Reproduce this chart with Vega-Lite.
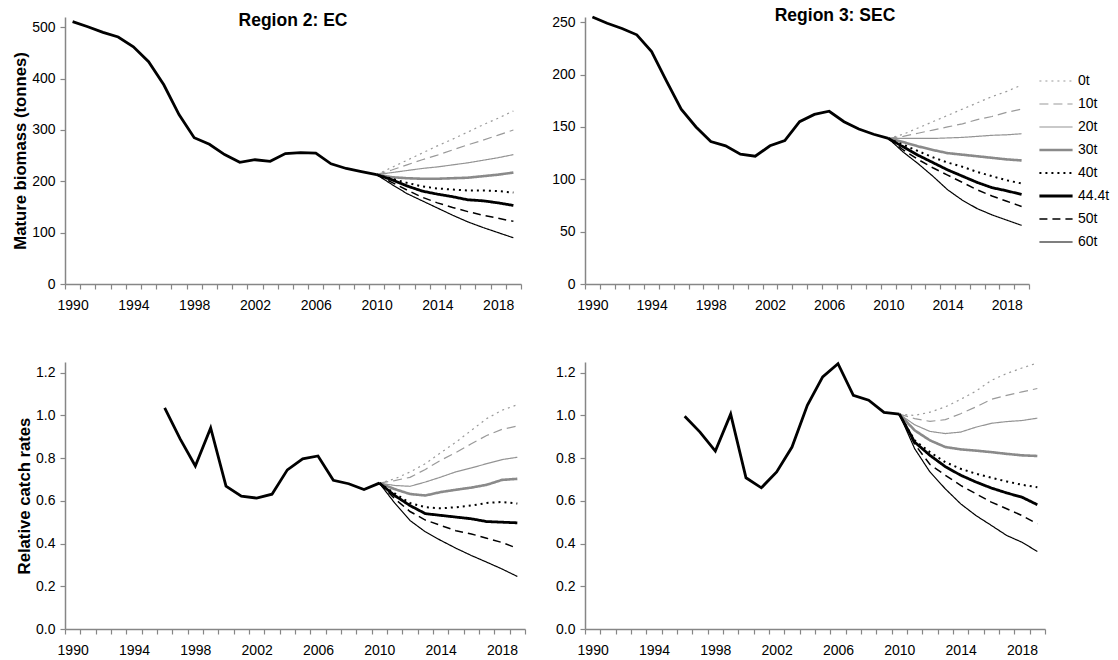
{
  "$schema": "https://vega.github.io/schema/vega-lite/v6.json",
  "padding": {"left": 12, "top": 6, "right": 0, "bottom": 0},
  "background": "white",
  "config": {
    "font": "Liberation Sans",
    "view": {"stroke": null},
    "axis": {
      "domainColor": "#868686", "domainWidth": 1.5,
      "tickColor": "#868686", "tickWidth": 1.2, "tickSize": 5,
      "labelFont": "Liberation Sans", "labelFontSize": 14, "labelColor": "#000",
      "titleFont": "Liberation Sans", "titleFontSize": 16.7, "titleFontWeight": "bold", "titleColor": "#000",
      "grid": false
    },
    "title": {"font": "Liberation Sans", "fontSize": 17.5, "fontWeight": "bold", "color": "#000", "anchor": "middle", "baseline": "alphabetic", "offset": -13},
    "legend": {"labelFont": "Liberation Sans", "labelFontSize": 14, "labelColor": "#000", "rowPadding": 9, "symbolSize": 1100, "symbolType": "stroke", "labelOffset": 15, "symbolOffset": 13, "padding": 0}
  },
  "datasets": {
    "ecB": [
      {"year":1990,"s":"obs","v":511},{"year":1991,"s":"obs","v":501},{"year":1992,"s":"obs","v":490},{"year":1993,"s":"obs","v":481},{"year":1994,"s":"obs","v":462},{"year":1995,"s":"obs","v":433},{"year":1996,"s":"obs","v":388},{"year":1997,"s":"obs","v":330},{"year":1998,"s":"obs","v":285},{"year":1999,"s":"obs","v":272},{"year":2000,"s":"obs","v":252},{"year":2001,"s":"obs","v":237},{"year":2002,"s":"obs","v":242},{"year":2003,"s":"obs","v":239},{"year":2004,"s":"obs","v":254},{"year":2005,"s":"obs","v":256},{"year":2006,"s":"obs","v":255},{"year":2007,"s":"obs","v":234},{"year":2008,"s":"obs","v":225},{"year":2009,"s":"obs","v":219},{"year":2010,"s":"obs","v":213},
      {"year":2010,"s":"0t","v":213},{"year":2011,"s":"0t","v":227},{"year":2012,"s":"0t","v":241},{"year":2013,"s":"0t","v":255},{"year":2014,"s":"0t","v":269},{"year":2015,"s":"0t","v":282},{"year":2016,"s":"0t","v":296},{"year":2017,"s":"0t","v":310},{"year":2018,"s":"0t","v":323},{"year":2019,"s":"0t","v":337},
      {"year":2010,"s":"10t","v":213},{"year":2011,"s":"10t","v":222},{"year":2012,"s":"10t","v":232},{"year":2013,"s":"10t","v":242},{"year":2014,"s":"10t","v":251},{"year":2015,"s":"10t","v":261},{"year":2016,"s":"10t","v":271},{"year":2017,"s":"10t","v":280},{"year":2018,"s":"10t","v":290},{"year":2019,"s":"10t","v":300},
      {"year":2010,"s":"20t","v":213},{"year":2011,"s":"20t","v":217},{"year":2012,"s":"20t","v":221},{"year":2013,"s":"20t","v":225},{"year":2014,"s":"20t","v":228},{"year":2015,"s":"20t","v":232},{"year":2016,"s":"20t","v":236},{"year":2017,"s":"20t","v":241},{"year":2018,"s":"20t","v":246},{"year":2019,"s":"20t","v":252},
      {"year":2010,"s":"30t","v":213},{"year":2011,"s":"30t","v":208},{"year":2012,"s":"30t","v":206},{"year":2013,"s":"30t","v":205},{"year":2014,"s":"30t","v":205},{"year":2015,"s":"30t","v":206},{"year":2016,"s":"30t","v":207},{"year":2017,"s":"30t","v":210},{"year":2018,"s":"30t","v":213},{"year":2019,"s":"30t","v":217},
      {"year":2010,"s":"40t","v":213},{"year":2011,"s":"40t","v":205},{"year":2012,"s":"40t","v":197},{"year":2013,"s":"40t","v":190},{"year":2014,"s":"40t","v":186},{"year":2015,"s":"40t","v":184},{"year":2016,"s":"40t","v":182},{"year":2017,"s":"40t","v":182},{"year":2018,"s":"40t","v":181},{"year":2019,"s":"40t","v":178},
      {"year":2010,"s":"44.4t","v":213},{"year":2011,"s":"44.4t","v":203},{"year":2012,"s":"44.4t","v":191},{"year":2013,"s":"44.4t","v":181},{"year":2014,"s":"44.4t","v":175},{"year":2015,"s":"44.4t","v":170},{"year":2016,"s":"44.4t","v":164},{"year":2017,"s":"44.4t","v":162},{"year":2018,"s":"44.4t","v":158},{"year":2019,"s":"44.4t","v":153},
      {"year":2010,"s":"50t","v":213},{"year":2011,"s":"50t","v":198},{"year":2012,"s":"50t","v":183},{"year":2013,"s":"50t","v":169},{"year":2014,"s":"50t","v":158},{"year":2015,"s":"50t","v":149},{"year":2016,"s":"50t","v":141},{"year":2017,"s":"50t","v":134},{"year":2018,"s":"50t","v":128},{"year":2019,"s":"50t","v":122},
      {"year":2010,"s":"60t","v":213},{"year":2011,"s":"60t","v":194},{"year":2012,"s":"60t","v":176},{"year":2013,"s":"60t","v":162},{"year":2014,"s":"60t","v":148},{"year":2015,"s":"60t","v":134},{"year":2016,"s":"60t","v":121},{"year":2017,"s":"60t","v":110},{"year":2018,"s":"60t","v":100},{"year":2019,"s":"60t","v":90}
    ],
    "secB": [
      {"year":1990,"s":"obs","v":255},{"year":1991,"s":"obs","v":249},{"year":1992,"s":"obs","v":244},{"year":1993,"s":"obs","v":238},{"year":1994,"s":"obs","v":222},{"year":1995,"s":"obs","v":194},{"year":1996,"s":"obs","v":167},{"year":1997,"s":"obs","v":150},{"year":1998,"s":"obs","v":136},{"year":1999,"s":"obs","v":132},{"year":2000,"s":"obs","v":124},{"year":2001,"s":"obs","v":122},{"year":2002,"s":"obs","v":132},{"year":2003,"s":"obs","v":137},{"year":2004,"s":"obs","v":155},{"year":2005,"s":"obs","v":162},{"year":2006,"s":"obs","v":165},{"year":2007,"s":"obs","v":155},{"year":2008,"s":"obs","v":148},{"year":2009,"s":"obs","v":143},{"year":2010,"s":"obs","v":139},
      {"year":2010,"s":"0t","v":139},{"year":2011,"s":"0t","v":143},{"year":2012,"s":"0t","v":149},{"year":2013,"s":"0t","v":155},{"year":2014,"s":"0t","v":161},{"year":2015,"s":"0t","v":167},{"year":2016,"s":"0t","v":173},{"year":2017,"s":"0t","v":179},{"year":2018,"s":"0t","v":184},{"year":2019,"s":"0t","v":190},
      {"year":2010,"s":"10t","v":139},{"year":2011,"s":"10t","v":141},{"year":2012,"s":"10t","v":144},{"year":2013,"s":"10t","v":147},{"year":2014,"s":"10t","v":150},{"year":2015,"s":"10t","v":153},{"year":2016,"s":"10t","v":157},{"year":2017,"s":"10t","v":160},{"year":2018,"s":"10t","v":164},{"year":2019,"s":"10t","v":167},
      {"year":2010,"s":"20t","v":139},{"year":2011,"s":"20t","v":139},{"year":2012,"s":"20t","v":139},{"year":2013,"s":"20t","v":139},{"year":2014,"s":"20t","v":139.5},{"year":2015,"s":"20t","v":140},{"year":2016,"s":"20t","v":141},{"year":2017,"s":"20t","v":142},{"year":2018,"s":"20t","v":142.5},{"year":2019,"s":"20t","v":143.5},
      {"year":2010,"s":"30t","v":139},{"year":2011,"s":"30t","v":135.5},{"year":2012,"s":"30t","v":131.5},{"year":2013,"s":"30t","v":128},{"year":2014,"s":"30t","v":125},{"year":2015,"s":"30t","v":123.5},{"year":2016,"s":"30t","v":122},{"year":2017,"s":"30t","v":120.5},{"year":2018,"s":"30t","v":119},{"year":2019,"s":"30t","v":118},
      {"year":2010,"s":"40t","v":139},{"year":2011,"s":"40t","v":133},{"year":2012,"s":"40t","v":127},{"year":2013,"s":"40t","v":121},{"year":2014,"s":"40t","v":116},{"year":2015,"s":"40t","v":112},{"year":2016,"s":"40t","v":107},{"year":2017,"s":"40t","v":103},{"year":2018,"s":"40t","v":99},{"year":2019,"s":"40t","v":96},
      {"year":2010,"s":"44.4t","v":139},{"year":2011,"s":"44.4t","v":131},{"year":2012,"s":"44.4t","v":123},{"year":2013,"s":"44.4t","v":116},{"year":2014,"s":"44.4t","v":109},{"year":2015,"s":"44.4t","v":103},{"year":2016,"s":"44.4t","v":97},{"year":2017,"s":"44.4t","v":92},{"year":2018,"s":"44.4t","v":89},{"year":2019,"s":"44.4t","v":85.5},
      {"year":2010,"s":"50t","v":139},{"year":2011,"s":"50t","v":128},{"year":2012,"s":"50t","v":119},{"year":2013,"s":"50t","v":111},{"year":2014,"s":"50t","v":104},{"year":2015,"s":"50t","v":97},{"year":2016,"s":"50t","v":90},{"year":2017,"s":"50t","v":84},{"year":2018,"s":"50t","v":79},{"year":2019,"s":"50t","v":74},
      {"year":2010,"s":"60t","v":139},{"year":2011,"s":"60t","v":126},{"year":2012,"s":"60t","v":115},{"year":2013,"s":"60t","v":103},{"year":2014,"s":"60t","v":90},{"year":2015,"s":"60t","v":80},{"year":2016,"s":"60t","v":72},{"year":2017,"s":"60t","v":66},{"year":2018,"s":"60t","v":61},{"year":2019,"s":"60t","v":56}
    ],
    "ecC": [
      {"year":1996,"s":"obs","v":1.035},{"year":1997,"s":"obs","v":0.891},{"year":1998,"s":"obs","v":0.763},{"year":1999,"s":"obs","v":0.941},{"year":2000,"s":"obs","v":0.669},{"year":2001,"s":"obs","v":0.622},{"year":2002,"s":"obs","v":0.613},{"year":2003,"s":"obs","v":0.631},{"year":2004,"s":"obs","v":0.745},{"year":2005,"s":"obs","v":0.797},{"year":2006,"s":"obs","v":0.81},{"year":2007,"s":"obs","v":0.696},{"year":2008,"s":"obs","v":0.68},{"year":2009,"s":"obs","v":0.653},{"year":2010,"s":"obs","v":0.683},
      {"year":2010,"s":"0t","v":0.683},{"year":2011,"s":"0t","v":0.703},{"year":2012,"s":"0t","v":0.735},{"year":2013,"s":"0t","v":0.774},{"year":2014,"s":"0t","v":0.825},{"year":2015,"s":"0t","v":0.875},{"year":2016,"s":"0t","v":0.93},{"year":2017,"s":"0t","v":0.985},{"year":2018,"s":"0t","v":1.024},{"year":2019,"s":"0t","v":1.05},
      {"year":2010,"s":"10t","v":0.683},{"year":2011,"s":"10t","v":0.695},{"year":2012,"s":"10t","v":0.71},{"year":2013,"s":"10t","v":0.747},{"year":2014,"s":"10t","v":0.79},{"year":2015,"s":"10t","v":0.826},{"year":2016,"s":"10t","v":0.867},{"year":2017,"s":"10t","v":0.906},{"year":2018,"s":"10t","v":0.935},{"year":2019,"s":"10t","v":0.95},
      {"year":2010,"s":"20t","v":0.683},{"year":2011,"s":"20t","v":0.672},{"year":2012,"s":"20t","v":0.668},{"year":2013,"s":"20t","v":0.688},{"year":2014,"s":"20t","v":0.711},{"year":2015,"s":"20t","v":0.736},{"year":2016,"s":"20t","v":0.754},{"year":2017,"s":"20t","v":0.774},{"year":2018,"s":"20t","v":0.793},{"year":2019,"s":"20t","v":0.804},
      {"year":2010,"s":"30t","v":0.683},{"year":2011,"s":"30t","v":0.655},{"year":2012,"s":"30t","v":0.632},{"year":2013,"s":"30t","v":0.625},{"year":2014,"s":"30t","v":0.641},{"year":2015,"s":"30t","v":0.652},{"year":2016,"s":"30t","v":0.662},{"year":2017,"s":"30t","v":0.675},{"year":2018,"s":"30t","v":0.698},{"year":2019,"s":"30t","v":0.703},
      {"year":2010,"s":"40t","v":0.683},{"year":2011,"s":"40t","v":0.635},{"year":2012,"s":"40t","v":0.59},{"year":2013,"s":"40t","v":0.57},{"year":2014,"s":"40t","v":0.565},{"year":2015,"s":"40t","v":0.57},{"year":2016,"s":"40t","v":0.578},{"year":2017,"s":"40t","v":0.59},{"year":2018,"s":"40t","v":0.595},{"year":2019,"s":"40t","v":0.587},
      {"year":2010,"s":"44.4t","v":0.683},{"year":2011,"s":"44.4t","v":0.625},{"year":2012,"s":"44.4t","v":0.578},{"year":2013,"s":"44.4t","v":0.54},{"year":2014,"s":"44.4t","v":0.532},{"year":2015,"s":"44.4t","v":0.524},{"year":2016,"s":"44.4t","v":0.516},{"year":2017,"s":"44.4t","v":0.503},{"year":2018,"s":"44.4t","v":0.5},{"year":2019,"s":"44.4t","v":0.497},
      {"year":2010,"s":"50t","v":0.683},{"year":2011,"s":"50t","v":0.61},{"year":2012,"s":"50t","v":0.55},{"year":2013,"s":"50t","v":0.51},{"year":2014,"s":"50t","v":0.485},{"year":2015,"s":"50t","v":0.46},{"year":2016,"s":"50t","v":0.445},{"year":2017,"s":"50t","v":0.425},{"year":2018,"s":"50t","v":0.405},{"year":2019,"s":"50t","v":0.378},
      {"year":2010,"s":"60t","v":0.683},{"year":2011,"s":"60t","v":0.59},{"year":2012,"s":"60t","v":0.508},{"year":2013,"s":"60t","v":0.455},{"year":2014,"s":"60t","v":0.415},{"year":2015,"s":"60t","v":0.378},{"year":2016,"s":"60t","v":0.344},{"year":2017,"s":"60t","v":0.313},{"year":2018,"s":"60t","v":0.281},{"year":2019,"s":"60t","v":0.246}
    ],
    "secC": [
      {"year":1996,"s":"obs","v":0.996},{"year":1997,"s":"obs","v":0.922},{"year":1998,"s":"obs","v":0.833},{"year":1999,"s":"obs","v":1.006},{"year":2000,"s":"obs","v":0.708},{"year":2001,"s":"obs","v":0.661},{"year":2002,"s":"obs","v":0.735},{"year":2003,"s":"obs","v":0.852},{"year":2004,"s":"obs","v":1.047},{"year":2005,"s":"obs","v":1.18},{"year":2006,"s":"obs","v":1.242},{"year":2007,"s":"obs","v":1.094},{"year":2008,"s":"obs","v":1.071},{"year":2009,"s":"obs","v":1.014},{"year":2010,"s":"obs","v":1.006},
      {"year":2010,"s":"0t","v":1.006},{"year":2011,"s":"0t","v":1.0},{"year":2012,"s":"0t","v":1.015},{"year":2013,"s":"0t","v":1.04},{"year":2014,"s":"0t","v":1.075},{"year":2015,"s":"0t","v":1.114},{"year":2016,"s":"0t","v":1.164},{"year":2017,"s":"0t","v":1.196},{"year":2018,"s":"0t","v":1.222},{"year":2019,"s":"0t","v":1.245},
      {"year":2010,"s":"10t","v":1.006},{"year":2011,"s":"10t","v":0.985},{"year":2012,"s":"10t","v":0.972},{"year":2013,"s":"10t","v":0.98},{"year":2014,"s":"10t","v":1.008},{"year":2015,"s":"10t","v":1.04},{"year":2016,"s":"10t","v":1.075},{"year":2017,"s":"10t","v":1.094},{"year":2018,"s":"10t","v":1.11},{"year":2019,"s":"10t","v":1.126},
      {"year":2010,"s":"20t","v":1.006},{"year":2011,"s":"20t","v":0.956},{"year":2012,"s":"20t","v":0.925},{"year":2013,"s":"20t","v":0.915},{"year":2014,"s":"20t","v":0.922},{"year":2015,"s":"20t","v":0.945},{"year":2016,"s":"20t","v":0.963},{"year":2017,"s":"20t","v":0.971},{"year":2018,"s":"20t","v":0.976},{"year":2019,"s":"20t","v":0.987},
      {"year":2010,"s":"30t","v":1.006},{"year":2011,"s":"30t","v":0.93},{"year":2012,"s":"30t","v":0.883},{"year":2013,"s":"30t","v":0.852},{"year":2014,"s":"30t","v":0.841},{"year":2015,"s":"30t","v":0.835},{"year":2016,"s":"30t","v":0.828},{"year":2017,"s":"30t","v":0.82},{"year":2018,"s":"30t","v":0.813},{"year":2019,"s":"30t","v":0.81},
      {"year":2010,"s":"40t","v":1.006},{"year":2011,"s":"40t","v":0.883},{"year":2012,"s":"40t","v":0.828},{"year":2013,"s":"40t","v":0.781},{"year":2014,"s":"40t","v":0.75},{"year":2015,"s":"40t","v":0.727},{"year":2016,"s":"40t","v":0.708},{"year":2017,"s":"40t","v":0.691},{"year":2018,"s":"40t","v":0.675},{"year":2019,"s":"40t","v":0.664},
      {"year":2010,"s":"44.4t","v":1.006},{"year":2011,"s":"44.4t","v":0.875},{"year":2012,"s":"44.4t","v":0.813},{"year":2013,"s":"44.4t","v":0.76},{"year":2014,"s":"44.4t","v":0.72},{"year":2015,"s":"44.4t","v":0.688},{"year":2016,"s":"44.4t","v":0.66},{"year":2017,"s":"44.4t","v":0.637},{"year":2018,"s":"44.4t","v":0.617},{"year":2019,"s":"44.4t","v":0.582},
      {"year":2010,"s":"50t","v":1.006},{"year":2011,"s":"50t","v":0.865},{"year":2012,"s":"50t","v":0.77},{"year":2013,"s":"50t","v":0.72},{"year":2014,"s":"50t","v":0.672},{"year":2015,"s":"50t","v":0.633},{"year":2016,"s":"50t","v":0.594},{"year":2017,"s":"50t","v":0.563},{"year":2018,"s":"50t","v":0.531},{"year":2019,"s":"50t","v":0.492},
      {"year":2010,"s":"60t","v":1.006},{"year":2011,"s":"60t","v":0.844},{"year":2012,"s":"60t","v":0.735},{"year":2013,"s":"60t","v":0.656},{"year":2014,"s":"60t","v":0.586},{"year":2015,"s":"60t","v":0.531},{"year":2016,"s":"60t","v":0.485},{"year":2017,"s":"60t","v":0.438},{"year":2018,"s":"60t","v":0.406},{"year":2019,"s":"60t","v":0.363}
    ]
  },
  "spacing": 46,
  "resolve": {"scale": {"color": "independent", "strokeDash": "independent"}, "legend": {"color": "independent", "strokeDash": "independent"}},
  "vconcat": [
    {
      "spacing": 29,
      "resolve": {"scale": {"color": "independent", "strokeDash": "independent"}, "legend": {"color": "independent", "strokeDash": "independent"}},
      "hconcat": [
        {
          "width": 456, "height": 267,
          "data": {"name": "ecB"},
          "title": {"text": "Region 2: EC"},
          "encoding": {
            "x": {"field": "year", "type": "ordinal", "bandPosition": 0.5,
              "scale": {"type": "band", "paddingInner": 0, "paddingOuter": 0, "domain": [1990,1991,1992,1993,1994,1995,1996,1997,1998,1999,2000,2001,2002,2003,2004,2005,2006,2007,2008,2009,2010,2011,2012,2013,2014,2015,2016,2017,2018,2019]},
              "axis": {"title": null, "tickBand": "extent", "labelAngle": 0, "labelPadding": 9, "labelOverlap": false, "labelExpr": "datum.value % 4 == 2 ? datum.label : ''"}},
            "y": {"field": "v", "type": "quantitative", "scale": {"domain": [0, 520], "nice": false, "zero": true},
              "axis": {"title": "Mature biomass (tonnes)", "values": [0,100,200,300,400,500], "labelPadding": 5, "titlePadding": 2}}
          },
          "layer": [
            {
              "transform": [{"filter": "datum.s != 'obs'"}],
              "mark": {"type": "line"},
              "encoding": {
                "color": {"field": "s", "type": "nominal", "legend": null, "scale": {"domain": ["0t","10t","20t","30t","40t","44.4t","50t","60t"], "range": ["#9a9a9a","#9a9a9a","#949494","#8a8a8a","#000000","#000000","#000000","#000000"]}},
                "strokeDash": {"field": "s", "type": "nominal", "legend": null, "scale": {"domain": ["0t","10t","20t","30t","40t","44.4t","50t","60t"], "range": [[2,4],[9,5],[1,0],[1,0],[2,4],[1,0],[8,5],[1,0]]}},
                "strokeWidth": {"condition": [{"test": "datum.s == '30t'", "value": 2.6}, {"test": "datum.s == '44.4t'", "value": 2.8}, {"test": "datum.s == '40t'", "value": 2}, {"test": "datum.s == '50t'", "value": 1.5}], "value": 1.2}
              }
            },
            {
              "transform": [{"filter": "datum.s == 'obs'"}],
              "mark": {"type": "line", "color": "#000", "strokeWidth": 2.8}
            }
          ]
        },
        {
          "width": 444, "height": 267,
          "data": {"name": "secB"},
          "title": {"text": "Region 3: SEC", "dx": 28},
          "encoding": {
            "x": {"field": "year", "type": "ordinal", "bandPosition": 0.5,
              "scale": {"type": "band", "paddingInner": 0, "paddingOuter": 0, "domain": [1990,1991,1992,1993,1994,1995,1996,1997,1998,1999,2000,2001,2002,2003,2004,2005,2006,2007,2008,2009,2010,2011,2012,2013,2014,2015,2016,2017,2018,2019]},
              "axis": {"title": null, "tickBand": "extent", "labelAngle": 0, "labelPadding": 9, "labelOverlap": false, "labelExpr": "datum.value % 4 == 2 ? datum.label : ''"}},
            "y": {"field": "v", "type": "quantitative", "scale": {"domain": [0, 255], "nice": false, "zero": true},
              "axis": {"title": null, "values": [0,50,100,150,200,250], "labelPadding": 5}}
          },
          "layer": [
            {
              "transform": [{"filter": "datum.s != 'obs'"}],
              "mark": {"type": "line"},
              "encoding": {
                "color": {"field": "s", "type": "nominal",
                  "legend": {"title": null, "orient": "none", "legendX": 451, "legendY": 57,
                    "encode": {"symbols": {"update": {"strokeWidth": {"signal": "datum.value == '30t' ? 2.6 : datum.value == '44.4t' ? 2.8 : datum.value == '40t' ? 2 : datum.value == '50t' ? 1.6 : 1.2"}}}}},
                  "scale": {"domain": ["0t","10t","20t","30t","40t","44.4t","50t","60t"], "range": ["#9a9a9a","#9a9a9a","#949494","#8a8a8a","#000000","#000000","#000000","#000000"]}},
                "strokeDash": {"field": "s", "type": "nominal",
                  "legend": {"title": null, "orient": "none", "legendX": 451, "legendY": 57},
                  "scale": {"domain": ["0t","10t","20t","30t","40t","44.4t","50t","60t"], "range": [[2,4],[9,5],[1,0],[1,0],[2,4],[1,0],[8,5],[1,0]]}},
                "strokeWidth": {"condition": [{"test": "datum.s == '30t'", "value": 2.6}, {"test": "datum.s == '44.4t'", "value": 2.8}, {"test": "datum.s == '40t'", "value": 2}, {"test": "datum.s == '50t'", "value": 1.5}], "value": 1.2}
              }
            },
            {
              "transform": [{"filter": "datum.s == 'obs'"}],
              "mark": {"type": "line", "color": "#000", "strokeWidth": 2.8}
            }
          ]
        }
      ]
    },
    {
      "spacing": 29,
      "resolve": {"scale": {"color": "independent", "strokeDash": "independent"}, "legend": {"color": "independent", "strokeDash": "independent"}},
      "hconcat": [
        {
          "width": 460, "height": 267,
          "data": {"name": "ecC"},
          "encoding": {
            "x": {"field": "year", "type": "ordinal", "bandPosition": 0.5,
              "scale": {"type": "band", "paddingInner": 0, "paddingOuter": 0, "domain": [1990,1991,1992,1993,1994,1995,1996,1997,1998,1999,2000,2001,2002,2003,2004,2005,2006,2007,2008,2009,2010,2011,2012,2013,2014,2015,2016,2017,2018,2019]},
              "axis": {"title": null, "tickBand": "extent", "labelAngle": 0, "labelPadding": 9, "labelOverlap": false, "labelExpr": "datum.value % 4 == 2 ? datum.label : ''"}},
            "y": {"field": "v", "type": "quantitative", "scale": {"domain": [0, 1.25], "nice": false, "zero": true},
              "axis": {"title": "Relative catch rates", "values": [0,0.2,0.4,0.6,0.8,1.0,1.2], "format": ".1f", "labelPadding": 5, "titlePadding": 2}}
          },
          "layer": [
            {
              "transform": [{"filter": "datum.s != 'obs'"}],
              "mark": {"type": "line"},
              "encoding": {
                "color": {"field": "s", "type": "nominal", "legend": null, "scale": {"domain": ["0t","10t","20t","30t","40t","44.4t","50t","60t"], "range": ["#9a9a9a","#9a9a9a","#949494","#8a8a8a","#000000","#000000","#000000","#000000"]}},
                "strokeDash": {"field": "s", "type": "nominal", "legend": null, "scale": {"domain": ["0t","10t","20t","30t","40t","44.4t","50t","60t"], "range": [[2,4],[9,5],[1,0],[1,0],[2,4],[1,0],[8,5],[1,0]]}},
                "strokeWidth": {"condition": [{"test": "datum.s == '30t'", "value": 2.6}, {"test": "datum.s == '44.4t'", "value": 2.8}, {"test": "datum.s == '40t'", "value": 2}, {"test": "datum.s == '50t'", "value": 1.5}], "value": 1.2}
              }
            },
            {
              "transform": [{"filter": "datum.s == 'obs'"}],
              "mark": {"type": "line", "color": "#000", "strokeWidth": 2.8}
            }
          ]
        },
        {
          "width": 460, "height": 267,
          "data": {"name": "secC"},
          "encoding": {
            "x": {"field": "year", "type": "ordinal", "bandPosition": 0.5,
              "scale": {"type": "band", "paddingInner": 0, "paddingOuter": 0, "domain": [1990,1991,1992,1993,1994,1995,1996,1997,1998,1999,2000,2001,2002,2003,2004,2005,2006,2007,2008,2009,2010,2011,2012,2013,2014,2015,2016,2017,2018,2019]},
              "axis": {"title": null, "tickBand": "extent", "labelAngle": 0, "labelPadding": 9, "labelOverlap": false, "labelExpr": "datum.value % 4 == 2 ? datum.label : ''"}},
            "y": {"field": "v", "type": "quantitative", "scale": {"domain": [0, 1.25], "nice": false, "zero": true},
              "axis": {"title": null, "values": [0,0.2,0.4,0.6,0.8,1.0,1.2], "format": ".1f", "labelPadding": 5}}
          },
          "layer": [
            {
              "transform": [{"filter": "datum.s != 'obs'"}],
              "mark": {"type": "line"},
              "encoding": {
                "color": {"field": "s", "type": "nominal", "legend": null, "scale": {"domain": ["0t","10t","20t","30t","40t","44.4t","50t","60t"], "range": ["#9a9a9a","#9a9a9a","#949494","#8a8a8a","#000000","#000000","#000000","#000000"]}},
                "strokeDash": {"field": "s", "type": "nominal", "legend": null, "scale": {"domain": ["0t","10t","20t","30t","40t","44.4t","50t","60t"], "range": [[2,4],[9,5],[1,0],[1,0],[2,4],[1,0],[8,5],[1,0]]}},
                "strokeWidth": {"condition": [{"test": "datum.s == '30t'", "value": 2.6}, {"test": "datum.s == '44.4t'", "value": 2.8}, {"test": "datum.s == '40t'", "value": 2}, {"test": "datum.s == '50t'", "value": 1.5}], "value": 1.2}
              }
            },
            {
              "transform": [{"filter": "datum.s == 'obs'"}],
              "mark": {"type": "line", "color": "#000", "strokeWidth": 2.8}
            }
          ]
        }
      ]
    }
  ]
}
